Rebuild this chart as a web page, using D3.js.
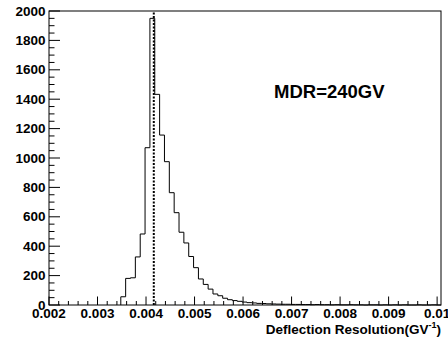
<!DOCTYPE html>
<html>
<head>
<meta charset="utf-8">
<script src="https://cdn.jsdelivr.net/npm/d3@7.9.0/dist/d3.min.js"></script>
<style>
  body { margin: 0; background: #fff; }
  svg { display: block; font-family: "Liberation Sans", Arial, sans-serif; font-weight: bold; }
</style>
</head>
<body>
<svg id="chart" width="448" height="339"></svg>
<script>
// histogram: first bin low edge, bin width, counts per bin
const binStart = 0.00348;
const binWidth = 0.0001;
const counts = [
  56, 181, 185, 327, 483, 1070, 1950, 1433, 1156, 975,
  764, 628, 495, 422, 330, 254, 177, 140, 108, 75,
  63, 46, 36, 30, 25, 20, 16, 14, 11, 10,
  8, 7, 6, 5, 5, 4, 4, 3, 3, 2,
  3, 2, 2, 1, 2, 1, 1, 2, 1, 1,
  0, 1, 1, 0, 1, 0, 1, 0, 1, 0,
  0, 1, 0, 0, 1, 0
];
const markerValue = 0.00416;

const xTicks = [0.002, 0.003, 0.004, 0.005, 0.006, 0.007, 0.008, 0.009, 0.01];
const xTickLabels = ['0.002', '0.003', '0.004', '0.005', '0.006', '0.007', '0.008', '0.009', '0.01'];
const yTicks = [0, 200, 400, 600, 800, 1000, 1200, 1400, 1600, 1800, 2000];
const annotation = 'MDR=240GV';

const svg = d3.select('#chart');
const frameL = 49, frameR = 441, frameT = 11, frameB = 305;

const x = d3.scaleLinear().domain([0.002, 0.01008]).range([frameL, frameR]);
const y = d3.scaleLinear().domain([0, 2000]).range([frameB, frameT]);

// frame
svg.append('rect')
  .attr('x', frameL).attr('y', frameT)
  .attr('width', frameR - frameL).attr('height', frameB - frameT)
  .attr('fill', 'none').attr('stroke', '#000').attr('stroke-width', 1);

// y ticks (inside, pointing right)
const yMinor = d3.range(0, 2001, 50);
svg.selectAll('.ytick')
  .data(yMinor)
  .join('line')
  .attr('x1', frameL).attr('x2', d => frameL + (d % 200 === 0 ? 11 : 5.5))
  .attr('y1', d => y(d)).attr('y2', d => y(d))
  .attr('stroke', '#000').attr('stroke-width', 1);

svg.selectAll('.ylab')
  .data(yTicks)
  .join('text')
  .attr('x', 45.5).attr('y', d => y(d))
  .attr('text-anchor', 'end')
  .attr('dominant-baseline', 'central')
  .attr('font-size', 13.5)
  .text(d => d);

// x ticks (inside, pointing up)
const xMinor = d3.range(0, 41).map(i => 0.002 + i * 0.0002);
svg.selectAll('.xtick')
  .data(xMinor)
  .join('line')
  .attr('x1', d => x(d)).attr('x2', d => x(d))
  .attr('y1', frameB).attr('y2', (d, i) => frameB - (i % 5 === 0 ? 8.5 : 4))
  .attr('stroke', '#000').attr('stroke-width', 1);

svg.selectAll('.xlab')
  .data(xTicks)
  .join('text')
  .attr('x', d => x(d)).attr('y', 318)
  .attr('text-anchor', 'middle')
  .attr('font-size', 13.5)
  .text((d, i) => xTickLabels[i]);

// axis title
const title = svg.append('text')
  .attr('x', 441).attr('y', 334)
  .attr('text-anchor', 'end')
  .attr('font-size', 13.5);
title.append('tspan').text('Deflection Resolution(GV');
title.append('tspan').attr('font-size', 9).attr('dy', -6).text('-1');
title.append('tspan').attr('dy', 6).text(')');

// histogram step outline
const pts = [[x(binStart), y(0)]];
counts.forEach((c, i) => {
  const lo = binStart + i * binWidth;
  pts.push([x(lo), y(c)], [x(lo + binWidth), y(c)]);
});
pts.push([x(binStart + counts.length * binWidth), y(0)]);

svg.append('path')
  .attr('d', d3.line()(pts))
  .attr('fill', 'none')
  .attr('stroke', '#000')
  .attr('stroke-width', 1);

// dotted marker line
svg.append('line')
  .attr('x1', x(markerValue)).attr('x2', x(markerValue))
  .attr('y1', frameB).attr('y2', frameT)
  .attr('stroke', '#000')
  .attr('stroke-width', 2)
  .attr('stroke-dasharray', '2,1.5');

// annotation
svg.append('text')
  .attr('x', 274).attr('y', 97.5)
  .attr('font-size', 18.5)
  .text(annotation);
</script>
</body>
</html>
